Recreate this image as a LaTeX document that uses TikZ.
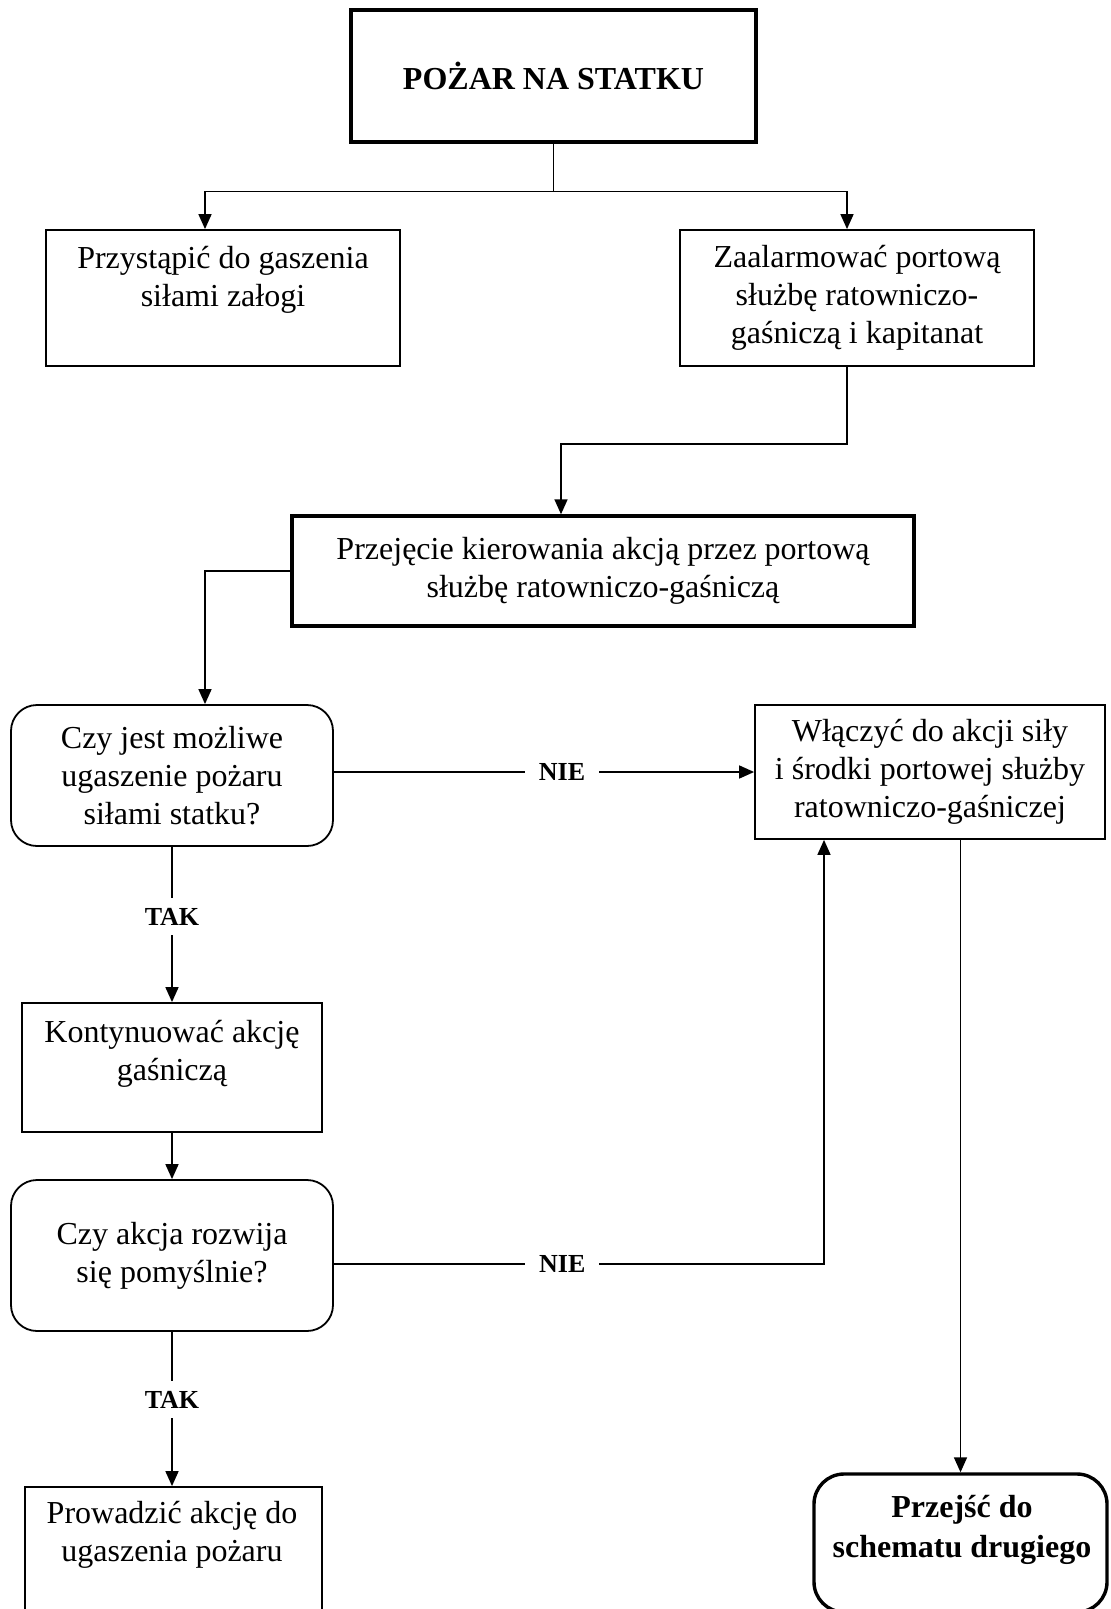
\documentclass[tikz,border=0pt]{standalone}
\usepackage{fontspec}
\setmainfont{Liberation Serif}
\usetikzlibrary{arrows.meta,calc}
\begin{document}
\begin{tikzpicture}[x=0.5pt,y=-0.5pt,
  every node/.style={font=\fontsize{16}{19}\selectfont, align=center},
  box/.style={draw, line width=0.9pt, rectangle, inner sep=0pt},
  thickbox/.style={draw, line width=1.7pt, rectangle, inner sep=0pt},
  rbox/.style={draw, line width=0.9pt, rounded corners=13pt, inner sep=0pt},
  txt/.style={inner sep=0pt},
  ln/.style={line width=0.8pt},
  arr/.style={line width=0.8pt, -{Triangle[length=7.5pt,width=6.5pt]}},
  lbl/.style={font=\fontsize{13}{15}\selectfont\bfseries, fill=white, inner xsep=7pt, inner ysep=5pt}
]
\useasboundingbox (0,0) rectangle (1110,1609);

\node[thickbox, minimum width=202.5pt, minimum height=66pt] (title) at (553.5,76) {\textbf{POŻAR NA STATKU}};

\node[box, minimum width=177pt, minimum height=68pt] (b1) at (223,298) {};
\node[txt] (b1t) at (223,280) {Przystąpić do gaszenia\\siłami załogi};

\node[box, minimum width=177pt, minimum height=68pt] (b2) at (857,298) {Zaalarmować portową\\służbę ratowniczo-\\gaśniczą i kapitanat};

\node[thickbox, minimum width=311pt, minimum height=55pt] (mid) at (603,571) {Przejęcie kierowania akcją przez portową\\służbę ratowniczo-gaśniczą};

\node[rbox, minimum width=161pt, minimum height=70.5pt] (d1) at (172,775.5) {Czy jest możliwe\\ugaszenie pożaru\\siłami statku?};

\node[box, minimum width=175pt, minimum height=67pt] (b3) at (930,772) {Włączyć do akcji siły\\i środki portowej służby\\ratowniczo-gaśniczej};

\node[box, minimum width=150pt, minimum height=64.5pt] (k) at (172,1067.5) {};
\node[txt] (kt) at (172,1054) {Kontynuować akcję\\gaśniczą};

\node[rbox, minimum width=161pt, minimum height=75.5pt] (d2) at (172,1255.5) {Czy akcja rozwija\\się pomyślnie?};

\node[box, minimum width=148.5pt, minimum height=69pt] (p) at (173.5,1556) {};
\node[txt] (pvt) at (172,1535) {Prowadzić akcję do\\ugaszenia pożaru};

\node[thickbox, rounded corners=15pt, minimum width=146.5pt, minimum height=69pt] (z) at (960.5,1543) {};
\node[txt, font=\fontsize{16}{20}\selectfont\bfseries] (zt) at (962,1530) {Przejść do\\schematu drugiego};

% connectors
\draw[ln] (title.south) -- ++(0,48) coordinate (tj);
\draw[arr] (tj) -| ($(b1.north)+(-18,0)$);
\draw[arr] (tj) -| ($(b2.north)+(-10,0)$);
\draw[arr] ($(b2.south)+(-10,0)$) -- ++(0,77) -| ($(mid.north)+(-42,0)$);
\draw[arr] (mid.west) -| ($(d1.north)+(33,0)$);
\draw[arr] (b3.west -| d1.east) -- node[lbl, pos=0.543]{NIE} (b3.west);
\draw[arr] (d1.south) -- node[lbl, pos=0.45]{TAK} (k.north);
\draw[arr] (k.south) -- (d2.north);
\draw[arr] ($(d2.east)+(0,8.5)$) -| node[lbl, pos=0.233]{NIE} ($(b3.south)+(-106,0)$);
\draw[arr] (b3.south -| z.north) -- (z.north);
\draw[arr] (d2.south) -- node[lbl, pos=0.44]{TAK} (d2.south |- p.north);
\end{tikzpicture}
\end{document}
